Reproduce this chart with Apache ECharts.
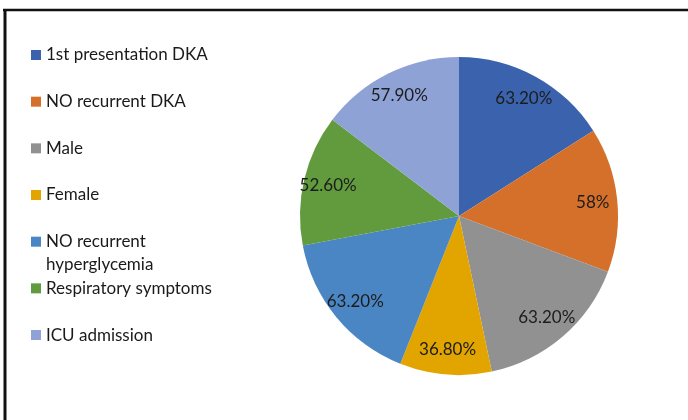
<!DOCTYPE html>
<html><head><meta charset="utf-8">
<script src="https://cdn.jsdelivr.net/npm/echarts@6/dist/echarts.min.js"></script>
<style>html,body{margin:0;padding:0;background:#fff}#c{width:688px;height:420px}</style>
</head><body><div id="c"></div>
<script>
const categories = ['1st presentation DKA','NO recurrent DKA','Male','Female','NO recurrent hyperglycemia','Respiratory symptoms','ICU admission'];
const legendText = ['1st presentation DKA','NO recurrent DKA','Male','Female','NO recurrent\nhyperglycemia','Respiratory symptoms','ICU admission'];
const values = [63.2, 58, 63.2, 36.8, 63.2, 52.6, 57.9];
const valueLabels = ['63.20%','58%','63.20%','36.80%','63.20%','52.60%','57.90%'];
const colors = ['#3B63AD','#D5702B','#919191','#E2A500','#4A86C3','#619B3D','#8EA2D5'];

const FONT = 'Lato';
const LH = 23;
const legends = categories.map((name, i) => {
  const center = 55 + i * 46.67;
  const lines = legendText[i].split('\n').length;
  // extra blank lines on top keep the first line aligned with the marker
  const txt = '\n'.repeat(lines - 1) + legendText[i];
  const h = (2 * lines - 1) * LH;
  return {
    data: [name],
    left: 31,
    top: center - h / 2,
    itemWidth: 10,
    itemHeight: 10,
    itemGap: 0,
    padding: 0,
    selectedMode: false,
    icon: 'rect',
    formatter: () => txt,
    textStyle: {fontFamily: FONT, fontSize: 17, color: '#1a1a1a', lineHeight: LH}
  };
});

const chart = echarts.init(document.getElementById('c'));
chart.setOption({
  animation: false,
  backgroundColor: '#fff',
  color: colors,
  legend: legends,
  graphic: [
    {type: 'line', shape: {x1: 3, y1: 10, x2: 688, y2: 10}, style: {stroke: '#111', lineWidth: 2.5}},
    {type: 'line', shape: {x1: 5, y1: 9, x2: 5, y2: 420}, style: {stroke: '#111', lineWidth: 3}}
  ],
  series: [
    {
      type: 'pie',
      center: [459, 216],
      radius: [0, 159],
      startAngle: 90,
      clockwise: true,
      silent: true,
      label: {show: false},
      labelLine: {show: false},
      itemStyle: {borderWidth: 0},
      data: categories.map((n, i) => ({name: n, value: values[i]}))
    },
    {
      type: 'pie',
      center: [459, 216],
      radius: [104, 159],
      startAngle: 90,
      clockwise: true,
      silent: true,
      itemStyle: {color: 'rgba(0,0,0,0)', borderWidth: 0},
      label: {show: true, position: 'inside', fontFamily: FONT, fontSize: 17, color: '#1c1c1c',
        formatter: p => valueLabels[p.dataIndex]},
      labelLine: {show: false},
      data: categories.map((n, i) => ({name: n, value: values[i]}))
    }
  ]
});
</script></body></html>
